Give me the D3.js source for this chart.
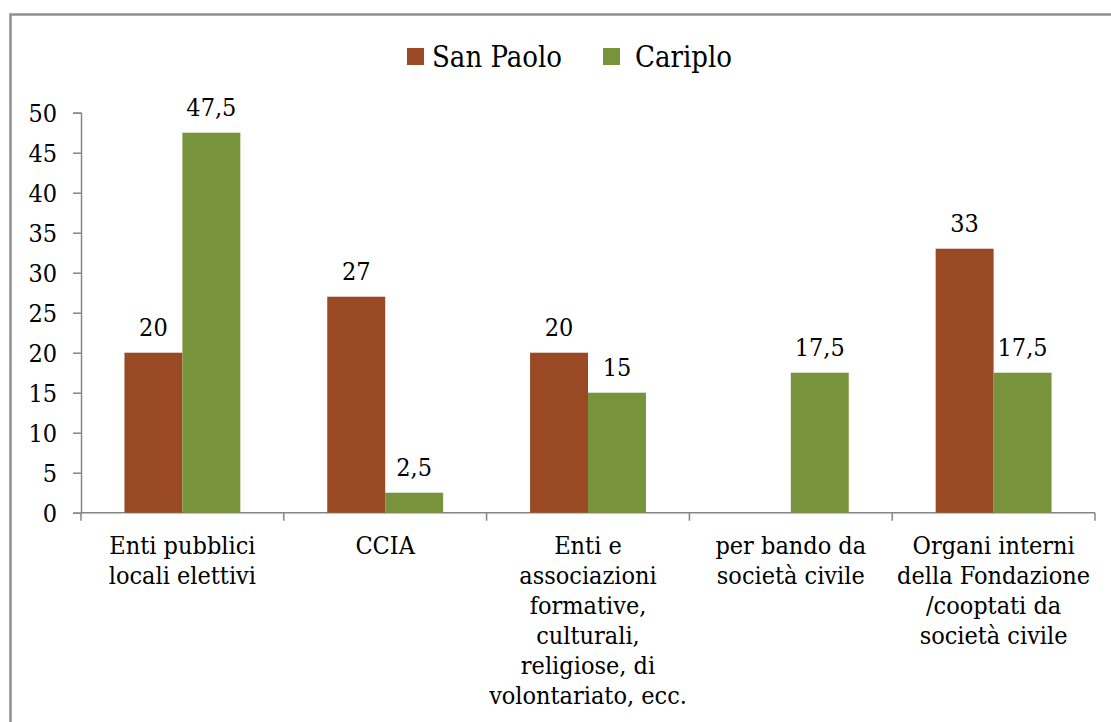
<!DOCTYPE html>
<html>
<head>
<meta charset="utf-8">
<script src="https://cdn.jsdelivr.net/npm/d3@7"></script>
<style>
  html, body { margin: 0; padding: 0; background: #fff; }
  svg { display: block; font-family: "DejaVu Serif Condensed", "DejaVu Serif", serif; font-stretch: condensed; }
</style>
</head>
<body>
<svg id="chart" width="1111" height="722"></svg>
<script>
// ---- Data ----
const categories = [
  ["Enti pubblici", "locali elettivi"],
  ["CCIA"],
  ["Enti e", "associazioni", "formative,", "culturali,", "religiose, di", "volontariato, ecc."],
  ["per bando da", "società civile"],
  ["Organi interni", "della Fondazione", "/cooptati da", "società civile"]
];
const seriesNames = ["San Paolo", "Cariplo"];
const sanPaolo = [20, 27, 20, null, 33];
const cariplo = [47.5, 2.5, 15, 17.5, 17.5];
const yTicks = [0, 5, 10, 15, 20, 25, 30, 35, 40, 45, 50];
const colors = ["#994a24", "#77933c"];

// ---- Layout ----
const svg = d3.select("#chart");
const plotLeft = 81, plotRight = 1095, plotTop = 112.7, plotBottom = 512.7;
const fs = 25, legendFs = 29;
const catIdx = categories.map((d, i) => i);
const seriesVals = [sanPaolo, cariplo];

const x0 = d3.scaleBand().domain(catIdx).range([plotLeft, plotRight]).paddingInner(0).paddingOuter(0);
const x1 = d3.scaleBand().domain(seriesNames).range([0, x0.bandwidth()]).paddingInner(0).paddingOuter(0.75);
const y = d3.scaleLinear().domain([0, 50]).range([plotBottom, plotTop]);

const itLocale = d3.formatLocale({decimal: ",", thousands: ".", grouping: [3], currency: ["€", ""]});
const fmt = v => Number.isInteger(v) ? String(v) : itLocale.format(".1f")(v);

// Border
svg.append("rect")
  .attr("x", 10.5).attr("y", 14.5).attr("width", 1130).attr("height", 740)
  .attr("fill", "none").attr("stroke", "#8f8f8f").attr("stroke-width", 2.5);

// Y axis
const yAxis = d3.axisLeft(y).tickValues(yTicks).tickSize(8).tickPadding(16).tickFormat(d => String(d));
const gy = svg.append("g").attr("transform", `translate(${plotLeft},0)`).call(yAxis);
gy.attr("font-family", null).attr("font-size", null);
gy.select(".domain").attr("stroke", "#868686").attr("stroke-width", 1.5);
gy.selectAll(".tick line").attr("stroke", "#868686").attr("stroke-width", 1.5);
gy.selectAll(".tick text").attr("font-size", fs).attr("fill", "#000").attr("dy", "0.36em");

// X axis
const boundaries = catIdx.map(i => x0(i)).concat([plotRight]);
const gx = svg.append("g");
gx.append("line").attr("x1", plotLeft).attr("x2", plotRight).attr("y1", plotBottom).attr("y2", plotBottom)
  .attr("stroke", "#868686").attr("stroke-width", 1.5);
gx.selectAll("line.tk").data(boundaries).join("line").attr("class", "tk")
  .attr("x1", d => d).attr("x2", d => d).attr("y1", plotBottom).attr("y2", plotBottom + 8)
  .attr("stroke", "#868686").attr("stroke-width", 1.5);

// Bars
seriesNames.forEach((s, si) => {
  const vals = seriesVals[si];
  const g = svg.append("g");
  g.selectAll("rect").data(catIdx.filter(i => vals[i] != null)).join("rect")
    .attr("x", i => x0(i) + x1(s))
    .attr("width", x1.bandwidth())
    .attr("y", i => y(vals[i]))
    .attr("height", i => y(0) - y(vals[i]))
    .attr("fill", colors[si]);
  g.selectAll("text").data(catIdx.filter(i => vals[i] != null)).join("text")
    .attr("x", i => x0(i) + x1(s) + x1.bandwidth() / 2)
    .attr("y", i => y(vals[i]) - 17)
    .attr("text-anchor", "middle")
    .attr("font-size", fs)
    .attr("fill", "#000")
    .text(i => fmt(vals[i]));
});

// Category labels
const gl = svg.append("g");
categories.forEach((lines, i) => {
  const t = gl.append("text")
    .attr("x", x0(i) + x0.bandwidth() / 2)
    .attr("y", 554)
    .attr("text-anchor", "middle")
    .attr("font-size", fs)
    .attr("fill", "#000");
  lines.forEach((ln, k) => {
    t.append("tspan").attr("x", x0(i) + x0.bandwidth() / 2).attr("y", 554 + k * 30).text(ln);
  });
});

// Legend
const legendX = [407, 603];
const lg = svg.append("g");
seriesNames.forEach((s, si) => {
  lg.append("rect").attr("x", legendX[si]).attr("y", 48).attr("width", 17).attr("height", 17)
    .attr("fill", colors[si]);
  lg.append("text").attr("x", legendX[si] + (si === 0 ? 25 : 32)).attr("y", 67)
    .attr("font-size", legendFs).attr("fill", "#000").text(s);
});
</script>
</body>
</html>
